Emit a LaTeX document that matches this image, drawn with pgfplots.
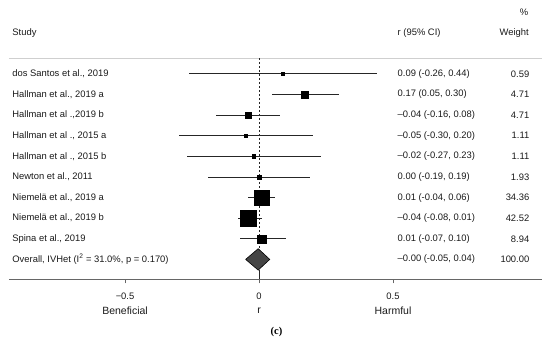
\documentclass[border=0pt]{standalone}
\usepackage{pgfplots}
\pgfplotsset{compat=1.18}
\usepackage{pgfplotstable}
\usepackage{fontspec}
\setmainfont{Liberation Sans}
\newfontfamily\seriffont{Liberation Serif}
\definecolor{txt}{HTML}{1A1A1A}
\definecolor{diam}{HTML}{454545}
\definecolor{axln}{HTML}{666666}
\definecolor{topln}{HTML}{CFCFCF}

\pgfplotstableread{
row r lo hi ms
1 0.09 -0.26 0.44 1.5
2 0.17 0.05 0.30 3.3
3 -0.04 -0.16 0.08 3.3
4 -0.05 -0.30 0.20 1.8
5 -0.02 -0.27 0.23 1.8
6 0.00 -0.19 0.19 2.0
7 0.01 -0.04 0.06 7.6
8 -0.04 -0.08 0.01 8.3
9 0.01 -0.07 0.10 4.1
}\studies

\begin{document}
\begin{tikzpicture}[font=\fontsize{9.4}{11}\selectfont, text=txt]
\useasboundingbox (0,0) rectangle (550pt,347pt);
\begin{axis}[
  at={(9pt,67.7pt)}, anchor=south west,
  scale only axis, width=533pt, height=221.3pt,
  xmin=-0.933, xmax=1.056, ymin=0.226, ymax=10.966,
  y dir=reverse,
  axis x line=bottom, axis y line=none,
  axis line style={axln, line width=0.6pt, -},
  xtick={-0.5,0,0.5}, xticklabels={−0.5,0,0.5},
  tick align=outside, major tick length=4pt,
  tick style={axln, line width=0.6pt},
  xticklabel style={text=txt, yshift=-6pt},
  clip=false,
]
% top grey line
\draw[topln, line width=0.8pt] (axis cs:-0.933,0.226) -- (axis cs:1.056,0.226);
% null / overall lines
\draw[black!85, line width=0.8pt, dash pattern=on 2.5pt off 1.5pt] (axis cs:0,0.226) -- (axis cs:0,9.5);
\draw[black!85, line width=0.7pt] (axis cs:0,10.5) -- (axis cs:0,10.966);
% studies
\addplot[only marks, mark=square*, scatter,
  scatter/use mapped color={draw=black, fill=black},
  visualization depends on={\thisrow{ms}\as\msize},
  scatter/@pre marker code/.append style={/tikz/mark size=\msize},
  mark options={line width=0.3pt},
  error bars/.cd, x dir=both, x explicit, error mark=none,
  error bar style={line width=0.9pt, black!85}]
  table[x=r, y=row,
        x error plus expr=\thisrow{hi}-\thisrow{r},
        x error minus expr=\thisrow{r}-\thisrow{lo}] {\studies};
% overall diamond
\addplot[fill=diam, draw=black, line width=0.6pt] coordinates
  {(-0.05,10) (-0.003,9.48) (0.04,10) (-0.003,10.52) (-0.05,10)};
% texts
\begin{scope}[every node/.style={inner sep=0pt}]
\node[anchor=west] at (axis cs:-0.921,-0.98) {Study};
\node[anchor=west] at (axis cs:0.5168,-0.98) {r (95\% CI)};
\node[anchor=east] at (axis cs:1.0075,-0.98) {Weight};
\node[anchor=east] at (axis cs:1.005,-1.98) {\%};
\node[anchor=west] at (axis cs:-0.921,1) {dos Santos et al., 2019};
\node[anchor=west] at (axis cs:-0.921,2) {Hallman et al., 2019 a};
\node[anchor=west] at (axis cs:-0.921,3) {Hallman et al .,2019 b};
\node[anchor=west] at (axis cs:-0.921,4) {Hallman et al ., 2015 a};
\node[anchor=west] at (axis cs:-0.921,5) {Hallman et al ., 2015 b};
\node[anchor=west] at (axis cs:-0.921,6) {Newton et al., 2011};
\node[anchor=west] at (axis cs:-0.921,7) {Niemelä et al., 2019 a};
\node[anchor=west] at (axis cs:-0.921,8) {Niemelä et al., 2019 b};
\node[anchor=west] at (axis cs:-0.921,9) {Spina et al., 2019};
\node[anchor=west] at (axis cs:-0.921,10) {Overall, IVHet (I\textsuperscript{2} = 31.0\%, p = 0.170)};
\node[anchor=west] at (axis cs:0.5168,1) {0.09 (-0.26, 0.44)};
\node[anchor=west] at (axis cs:0.5168,2) {0.17 (0.05, 0.30)};
\node[anchor=west] at (axis cs:0.5168,3) {\textendash0.04 (-0.16, 0.08)};
\node[anchor=west] at (axis cs:0.5168,4) {\textendash0.05 (-0.30, 0.20)};
\node[anchor=west] at (axis cs:0.5168,5) {\textendash0.02 (-0.27, 0.23)};
\node[anchor=west] at (axis cs:0.5168,6) {0.00 (-0.19, 0.19)};
\node[anchor=west] at (axis cs:0.5168,7) {0.01 (-0.04, 0.06)};
\node[anchor=west] at (axis cs:0.5168,8) {\textendash0.04 (-0.08, 0.01)};
\node[anchor=west] at (axis cs:0.5168,9) {0.01 (-0.07, 0.10)};
\node[anchor=west] at (axis cs:0.5168,10) {\textendash0.00 (-0.05, 0.04)};
\node[anchor=east] at (axis cs:1.0093,1) {0.59};
\node[anchor=east] at (axis cs:1.0093,2) {4.71};
\node[anchor=east] at (axis cs:1.0093,3) {4.71};
\node[anchor=east] at (axis cs:1.0093,4) {1.11};
\node[anchor=east] at (axis cs:1.0093,5) {1.11};
\node[anchor=east] at (axis cs:1.0093,6) {1.93};
\node[anchor=east] at (axis cs:1.0093,7) {34.36};
\node[anchor=east] at (axis cs:1.0093,8) {42.52};
\node[anchor=east] at (axis cs:1.0093,9) {8.94};
\node[anchor=east] at (axis cs:1.0093,10) {100.00};
\node[font=\fontsize{10.5}{12}\selectfont] at (axis cs:-0.5,12.47) {Beneficial};
\node[font=\fontsize{10.5}{12}\selectfont] at (axis cs:0,12.47) {r};
\node[font=\fontsize{10.5}{12}\selectfont] at (axis cs:0.5,12.47) {Harmful};
\node[font=\seriffont\bfseries\fontsize{10.5}{12}\selectfont, text=black] at (axis cs:0.065,13.53) {(c)};
\end{scope}
\end{axis}
\end{tikzpicture}
\end{document}
